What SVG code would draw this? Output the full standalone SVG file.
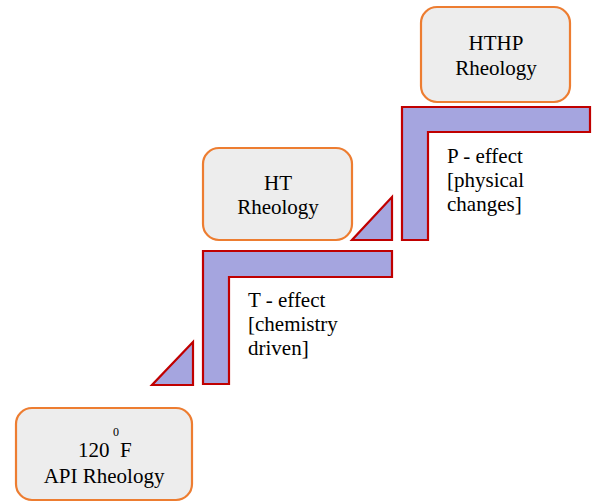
<svg xmlns="http://www.w3.org/2000/svg" width="594" height="504" viewBox="0 0 594 504">
<style>
.box{fill:#EDEDED;stroke:#ED7D31;stroke-width:2.2}
.step{fill:#A5A5DF;stroke:#C00000;stroke-width:2.2;stroke-linejoin:miter}
text{font-family:"Liberation Serif","Times New Roman",serif;font-size:21px;fill:#000}
.c{text-anchor:middle}
.sup{font-size:12px}
</style>
<rect width="594" height="504" fill="#fff"/>
<g id="connectors">
<polygon class="step" points="203,251 392,251 392,277 229,277 229,384 203,384"/>
<polygon class="step" points="193,342 193,385 152,385"/>
<polygon class="step" points="392,197 392,240 352,240"/>
<polygon class="step" points="402,107 590,107 590,132 428,132 428,240 402,240"/>
</g>
<g id="node-api">
<rect class="box" x="16" y="408" width="176" height="92" rx="16"/>
<text x="78" y="457">120</text>
<text class="sup" x="113" y="436">0</text>
<text x="120" y="457">F</text>
<text class="c" x="104" y="483">API Rheology</text>
</g>
<g id="node-ht">
<rect class="box" x="203" y="148" width="149" height="92" rx="16"/>
<text class="c" x="278" y="190">HT</text>
<text class="c" x="278" y="214">Rheology</text>
</g>
<g id="node-hthp">
<rect class="box" x="421" y="7" width="149" height="95" rx="16"/>
<text class="c" x="496" y="50">HTHP</text>
<text class="c" x="496" y="75">Rheology</text>
</g>
<g id="label-t">
<text x="248" y="307">T - effect</text>
<text x="248" y="331">[chemistry</text>
<text x="248" y="355">driven]</text>
</g>
<g id="label-p">
<text x="447" y="163">P - effect</text>
<text x="447" y="187">[physical</text>
<text x="447" y="211">changes]</text>
</g>
</svg>
